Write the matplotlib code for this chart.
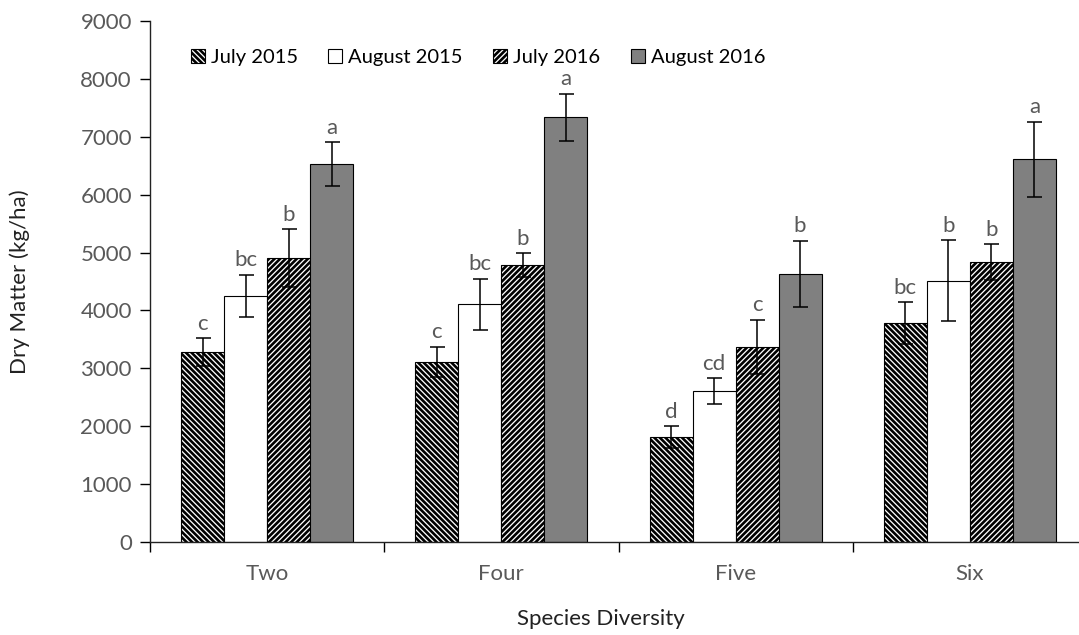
import numpy as np
import matplotlib
matplotlib.use("Agg")
import matplotlib.pyplot as plt
from matplotlib.ticker import FixedLocator, NullFormatter

plt.rcParams['font.family'] = ['Lato', 'DejaVu Sans']
plt.rcParams['hatch.linewidth'] = 1.9

categories = ['Two', 'Four', 'Five', 'Six']
series = ['July 2015', 'August 2015', 'July 2016', 'August 2016']

july_2015 = [3280, 3110, 1810, 3780]
aug_2015 = [4250, 4110, 2610, 4510]
july_2016 = [4900, 4780, 3370, 4830]
aug_2016 = [6530, 7340, 4630, 6610]

july_2015_err = [240, 260, 190, 360]
aug_2015_err = [365, 440, 220, 700]
july_2016_err = [500, 210, 465, 310]
aug_2016_err = [375, 405, 570, 650]

july_2015_lbl = ['c', 'c', 'd', 'bc']
aug_2015_lbl = ['bc', 'bc', 'cd', 'b']
july_2016_lbl = ['b', 'b', 'c', 'b']
aug_2016_lbl = ['a', 'a', 'b', 'a']

values = [july_2015, aug_2015, july_2016, aug_2016]
errors = [july_2015_err, aug_2015_err, july_2016_err, aug_2016_err]
letters = [july_2015_lbl, aug_2015_lbl, july_2016_lbl, aug_2016_lbl]
faces = ['white', 'white', 'white', '#808080']
hatches = ['\\' * 6, None, '/' * 6, None]

txt_gray = '#595959'

fig = plt.figure(figsize=(10.79, 6.35), dpi=100)
ax = fig.add_axes([150 / 1079, 1 - 542 / 635, 937 / 1079, 521 / 635])

x = np.arange(len(categories))
width = 0.1835
for i in range(4):
    pos = x + (i - 1.5) * width
    ax.bar(pos, values[i], width, color=faces[i], edgecolor='black',
           hatch=hatches[i], linewidth=0.8, label=series[i], zorder=2)
    ax.errorbar(pos, values[i], yerr=errors[i], fmt='none', ecolor='black',
                elinewidth=1.1, capsize=5.4, capthick=1.1, zorder=3)
    for p, v, e, t in zip(pos, values[i], errors[i], letters[i]):
        ax.text(p, v + e + 80, t, ha='center', va='bottom', fontsize=16,
                color=txt_gray)

ax.set_xlim(-0.5, len(categories) - 0.5)
ax.set_ylim(0, 9000)
ax.set_yticks(np.arange(0, 9001, 1000))
ax.set_xticks(x)
ax.set_xticklabels(categories)
ax.xaxis.set_minor_locator(FixedLocator(np.arange(-0.5, len(categories), 1)))
ax.xaxis.set_minor_formatter(NullFormatter())
ax.tick_params(axis='x', which='major', length=0, pad=16, labelsize=16,
               labelcolor=txt_gray)
ax.tick_params(axis='x', which='minor', length=7, width=1, direction='out')
ax.tick_params(axis='y', length=7, width=1, direction='out', pad=6,
               labelsize=16, labelcolor=txt_gray)

for s in ['top', 'right']:
    ax.spines[s].set_visible(False)
for s in ['left', 'bottom']:
    ax.spines[s].set_linewidth(1)
    ax.spines[s].set_color('#222222')

ax.set_ylabel('Dry Matter (kg/ha)', fontsize=16, color='#222222')
ax.yaxis.set_label_coords(-0.128, 0.5)
ax.set_xlabel('Species Diversity', fontsize=16, color='#222222')
ax.xaxis.set_label_coords(0.481, -0.128)

ax.legend(loc='upper left', bbox_to_anchor=(0.035, 0.962), ncol=4,
          frameon=False, fontsize=14.5, handlelength=0.7, handleheight=0.7,
          handletextpad=0.3, columnspacing=1.5, borderaxespad=0)

fig.savefig('out.png', dpi=100)
